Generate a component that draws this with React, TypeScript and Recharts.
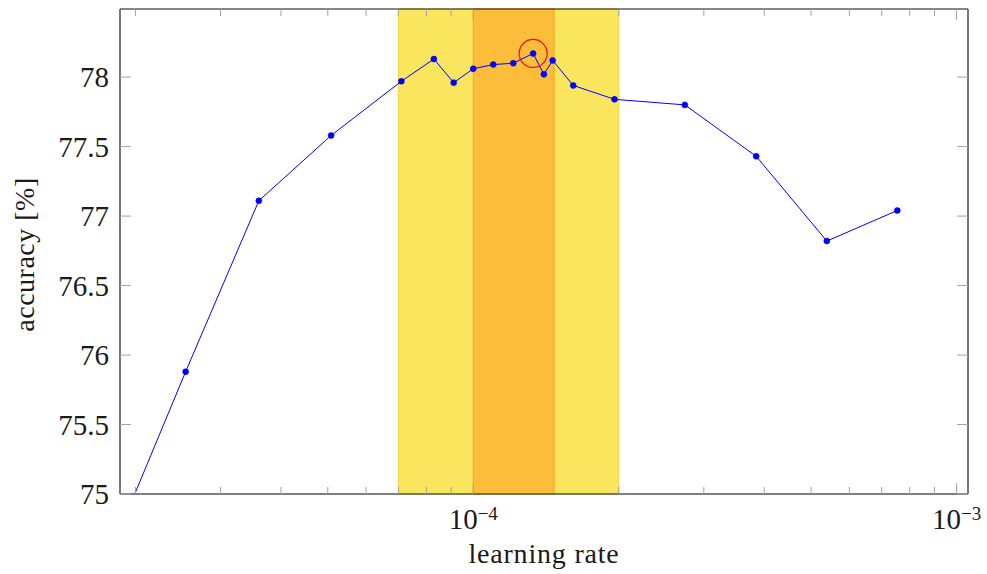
import React from 'react';
import { ComposedChart, Line, XAxis, YAxis, ReferenceArea, ReferenceDot } from 'recharts';

// Sweep results: learning rate vs. validation accuracy
const learningRates = [
  1.8e-5, 2.54e-5, 3.6e-5, 5.08e-5, 7.1e-5, 8.29e-5, 9.11e-5, 1.0e-4, 1.1e-4, 1.21e-4,
  1.33e-4, 1.4e-4, 1.46e-4, 1.61e-4, 1.96e-4, 2.74e-4, 3.85e-4, 5.39e-4, 7.54e-4,
];
const accuracies = [
  74.63, 75.88, 77.11, 77.58, 77.97, 78.13, 77.96, 78.06, 78.09, 78.1,
  78.17, 78.02, 78.12, 77.94, 77.84, 77.8, 77.43, 76.82, 77.04,
];

// Highlighted learning-rate ranges
const goodRange = [7e-5, 2e-4];
const bestRange = [1e-4, 1.47e-4];

// Axis ticks
const xTicks = [
  2e-5, 3e-5, 4e-5, 5e-5, 6e-5, 7e-5, 8e-5, 9e-5, 1e-4,
  2e-4, 3e-4, 4e-4, 5e-4, 6e-4, 7e-4, 8e-4, 9e-4, 1e-3,
];
const yTicks = [75, 75.5, 76, 76.5, 77, 77.5, 78];
const yTickLabels = ['75', '75.5', '76', '76.5', '77', '77.5', '78'];

const xDomain = [1.858e-5, 1.056e-3];
const yDomain = [75, 78.49];

const data = learningRates.map((lr, i) => ({ lr, acc: accuracies[i] }));
const bestIndex = accuracies.indexOf(Math.max(...accuracies));
const best = data[bestIndex];

const FONT = '"Liberation Serif", "DejaVu Serif", serif';
const TEXT = '#1a1a1a';
const TICK = '#a3a3a3';
const FRAME = '#555555';

const isDecade = (v: number) => Math.abs(Math.log10(v) - Math.round(Math.log10(v))) < 1e-9;

const BottomTick = (props: any) => {
  const { x, y, payload } = props;
  const v = payload.value as number;
  const major = isDecade(v);
  const exp = Math.round(Math.log10(v));
  return (
    <g>
      <line x1={x} y1={y} x2={x} y2={y - (major ? 11 : 7)} stroke={TICK} strokeWidth={1} />
      {major && (
        <text x={x} y={y + 35} textAnchor="middle" fontFamily={FONT} fontSize={29} fill={TEXT}>
          <tspan>10</tspan>
          <tspan dy={-9} fontSize={19}>{`−${Math.abs(exp)}`}</tspan>
        </text>
      )}
    </g>
  );
};

const TopTick = (props: any) => {
  const { x, y, payload } = props;
  const major = isDecade(payload.value as number);
  return <line x1={x} y1={y} x2={x} y2={y + (major ? 11 : 7)} stroke={TICK} strokeWidth={1} />;
};

const LeftTick = (props: any) => {
  const { x, y, index } = props;
  return (
    <g>
      <line x1={x} y1={y} x2={x + 11} y2={y} stroke={TICK} strokeWidth={1} />
      <text x={x - 11} y={y + 10} textAnchor="end" fontFamily={FONT} fontSize={29} fill={TEXT}>
        {yTickLabels[index]}
      </text>
    </g>
  );
};

const RightTick = (props: any) => {
  const { x, y } = props;
  return <line x1={x} y1={y} x2={x - 11} y2={y} stroke={TICK} strokeWidth={1} />;
};

const XTitle = (props: any) => {
  const vb = props.viewBox;
  return (
    <text
      x={vb.x + vb.width / 2}
      y={vb.y + 69}
      textAnchor="middle"
      fontFamily={FONT}
      fontSize={28}
      letterSpacing={0.8}
      fill={TEXT}
    >
      learning rate
    </text>
  );
};

const YTitle = (props: any) => {
  const vb = props.viewBox;
  const cx = vb.x + vb.width - 86;
  const cy = vb.y + vb.height / 2 + 3;
  return (
    <text
      x={cx}
      y={cy}
      transform={`rotate(-90, ${cx}, ${cy})`}
      textAnchor="middle"
      fontFamily={FONT}
      fontSize={28}
      letterSpacing={0.5}
      fill={TEXT}
    >
      accuracy [%]
    </text>
  );
};

export default function App() {
  return (
    <div style={{ position: 'absolute', left: 0, top: 0 }}>
      <ComposedChart
        width={987}
        height={574}
        data={data}
        margin={{ top: 8, right: 18, bottom: 79, left: 119 }}
      >
        <ReferenceArea
          x1={goodRange[0]}
          x2={goodRange[1]}
          fill="#f9e55e"
          fillOpacity={1}
          stroke="#f2d43c"
          strokeWidth={1}
        />
        <ReferenceArea
          x1={bestRange[0]}
          x2={bestRange[1]}
          fill="#fbbd3a"
          fillOpacity={1}
          stroke="#f6a42a"
          strokeWidth={1}
        />
        <XAxis
          dataKey="lr"
          type="number"
          scale="log"
          domain={xDomain}
          allowDataOverflow
          ticks={xTicks}
          interval={0}
          height={1}
          tickSize={0}
          tickMargin={0}
          tickLine={false}
          tick={<BottomTick />}
          axisLine={{ stroke: FRAME, strokeWidth: 1.6 }}
          label={<XTitle />}
        />
        <XAxis
          xAxisId="top"
          orientation="top"
          dataKey="lr"
          type="number"
          scale="log"
          domain={xDomain}
          allowDataOverflow
          ticks={xTicks}
          interval={0}
          height={1}
          tickSize={0}
          tickMargin={0}
          tickLine={false}
          tick={<TopTick />}
          axisLine={{ stroke: '#111111', strokeWidth: 1.2 }}
        />
        <YAxis
          type="number"
          domain={yDomain}
          allowDataOverflow
          ticks={yTicks}
          interval={0}
          width={1}
          tickSize={0}
          tickMargin={0}
          tickLine={false}
          tick={<LeftTick />}
          axisLine={{ stroke: FRAME, strokeWidth: 1.6 }}
          label={<YTitle />}
        />
        <YAxis
          yAxisId="right"
          orientation="right"
          type="number"
          domain={yDomain}
          allowDataOverflow
          ticks={yTicks}
          interval={0}
          width={1}
          tickSize={0}
          tickMargin={0}
          tickLine={false}
          tick={<RightTick />}
          axisLine={{ stroke: FRAME, strokeWidth: 1.6 }}
        />
        <Line
          dataKey="acc"
          stroke="#0000ff"
          strokeWidth={1}
          dot={{ r: 3, fill: '#0000ff', stroke: '#0000ff', strokeWidth: 0.5 }}
          isAnimationActive={false}
        />
        <ReferenceDot
          x={best.lr}
          y={best.acc}
          r={14}
          fill="none"
          stroke="#ff0000"
          strokeWidth={1.2}
        />
      </ComposedChart>
    </div>
  );
}
